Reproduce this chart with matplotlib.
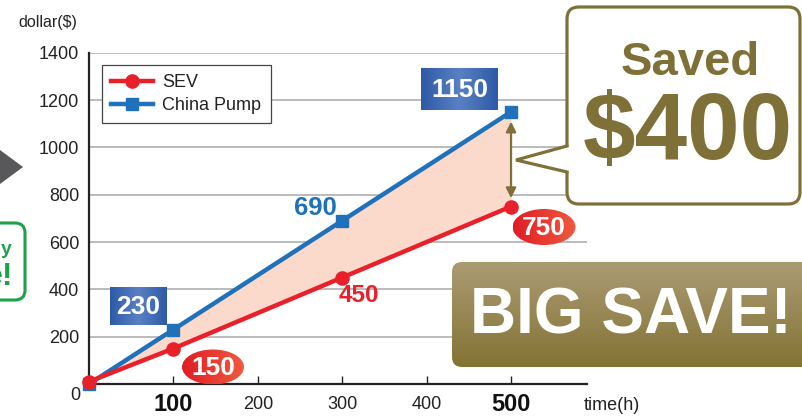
import numpy as np
import matplotlib
matplotlib.use('Agg')
import matplotlib.pyplot as plt
from matplotlib.patches import FancyBboxPatch, Ellipse, Polygon, Rectangle
from matplotlib.colors import LinearSegmentedColormap

plt.rcParams['font.family'] = ['Liberation Sans', 'DejaVu Sans']

# ---------------- data ----------------
hours = [0, 100, 300, 500]
sev_cost = [10, 150, 450, 750]
china_cost = [0, 230, 690, 1150]
series_names = ['SEV', 'China Pump']
x_ticks = [100, 200, 300, 400, 500]
x_tick_labels = ['100', '200', '300', '400', '500']
bold_x_labels = ['100', '500']
y_ticks = [0, 200, 400, 600, 800, 1000, 1200, 1400]
y_tick_labels = ['', '200', '400', '600', '800', '1000', '1200', '1400']
x_label = 'time(h)'
y_label = 'dollar($)'
saved = china_cost[-1] - sev_cost[-1]

RED = '#e8202a'
BLUE = '#1f72b9'
OLIVE = '#7f7038'
FILL = '#fcdacb'

W, H = 802, 416
fig = plt.figure(figsize=(W / 100, H / 100), dpi=100)

# main axes (pixel geometry of reference)
L, R, T, B = 89, 587, 52.7, 384
ax = fig.add_axes([L / W, 1 - B / H, (R - L) / W, (B - T) / H])
ax.set_xlim(0, 590)
ax.set_ylim(0, 1400)

for s in ['top', 'right']:
    ax.spines[s].set_visible(False)
ax.spines['left'].set_linewidth(1.6)
ax.spines['bottom'].set_linewidth(1.6)
ax.spines['left'].set_color('#222222')
ax.spines['bottom'].set_color('#222222')

ax.set_yticks(y_ticks)
ax.set_yticklabels(y_tick_labels)
ax.set_xticks(x_ticks)
ax.set_xticklabels(x_tick_labels)
ax.yaxis.grid(True, color='#a8a8a8', lw=1.1)
ax.set_axisbelow(True)
ax.tick_params(axis='y', length=0, pad=7, labelsize=13, labelcolor='#222222')
ax.tick_params(axis='x', direction='in', length=6, width=1.0, pad=14.5,
               labelsize=13, labelcolor='#222222', color='#222222')
for lbl in ax.get_xticklabels():
    lbl.set_va('center')
    if lbl.get_text() in bold_x_labels:
        lbl.set_fontsize(17)
        lbl.set_fontweight('bold')
        lbl.set_color('#111111')

ax.fill_between(hours, sev_cost, china_cost, color=FILL, lw=0, zorder=1)
l_cn, = ax.plot(hours, china_cost, color=BLUE, lw=3.2, marker='s', ms=8,
                zorder=3, clip_on=False, label=series_names[1])
l_sev, = ax.plot(hours, sev_cost, color=RED, lw=3.2, marker='o', ms=9.5,
                 zorder=4, clip_on=False, label=series_names[0])

leg = ax.legend(handles=[l_sev, l_cn], loc='upper left',
                bbox_to_anchor=(102 / W, 1 - 65 / H), bbox_transform=fig.transFigure,
                borderaxespad=0, fancybox=False, framealpha=1, edgecolor='#444444',
                fontsize=13, handlelength=2.3, handletextpad=0.55,
                labelspacing=0.35, borderpad=0.5)
leg.get_frame().set_linewidth(0.9)
for t in leg.get_texts():
    t.set_color('#222222')

# double arrow showing the saving
ax.annotate('', xy=(hours[-1], china_cost[-1]), xytext=(hours[-1], sev_cost[-1]),
            arrowprops=dict(arrowstyle='<|-|>,head_length=0.6,head_width=0.3',
                            color=OLIVE, lw=1.6, shrinkA=6, shrinkB=7), zorder=5)

# ---------------- overlay in pixel coordinates ----------------
ov = fig.add_axes([0, 0, 1, 1], zorder=10)
ov.set_xlim(0, W)
ov.set_ylim(H, 0)
ov.set_axis_off()


def gradient_patch(patch, c1, c2, horizontal=False, mid=None):
    ov.add_patch(patch)
    ext = patch.get_extents()
    inv = ov.transData.inverted()
    (x0, y0), (x1, y1) = inv.transform([(ext.x0, ext.y0), (ext.x1, ext.y1)])
    if mid is None:
        cmap = LinearSegmentedColormap.from_list('g', [c1, c2])
    else:
        cmap = LinearSegmentedColormap.from_list('g', [c1, mid, c2])
    g = np.linspace(0, 1, 256)
    img = g[None, :] if horizontal else g[:, None]
    im = ov.imshow(img, cmap=cmap, extent=[min(x0, x1), max(x0, x1), max(y0, y1), min(y0, y1)],
                   aspect='auto', zorder=patch.get_zorder(), origin='upper')
    im.set_clip_path(patch)
    ov.set_xlim(0, W)
    ov.set_ylim(H, 0)


# blue value boxes
for (x0, y0, x1, y1), txt in [((110, 287, 167, 325), '230'), ((421, 68, 498, 110), '1150')]:
    p = Rectangle((x0, y0), x1 - x0, y1 - y0, facecolor='none', edgecolor='none', zorder=11)
    gradient_patch(p, '#2d5aa6', '#2d5aa6', horizontal=True, mid='#5a80c4')
    ov.text((x0 + x1) / 2, (y0 + y1) / 2 + 1, txt, color='white', fontsize=19,
            fontweight='bold', ha='center', va='center', zorder=12)

# red value ellipses
for (cx, cy, w, h), txt in [((213, 367, 62, 35), '150'), ((544, 227, 63, 36), '750')]:
    e = Ellipse((cx, cy), w, h, facecolor='none', edgecolor='none', zorder=11)
    gradient_patch(e, '#e01c24', '#f05a40', horizontal=True)
    ov.text(cx, cy + 1, txt, color='white', fontsize=19, fontweight='bold',
            ha='center', va='center', zorder=12)

# plain coloured value labels
ov.text(315.5, 208, '690', color=BLUE, fontsize=18.5, fontweight='bold',
        ha='center', va='center', zorder=12)
ov.text(359, 296, '450', color=RED, fontsize=17.5, fontweight='bold',
        ha='center', va='center', zorder=12)

# speech bubble "Saved $400"
bub = FancyBboxPatch((567, 7), 233, 197, boxstyle='round,pad=0,rounding_size=12',
                     facecolor='white', edgecolor=OLIVE, lw=2.3, zorder=11)
ov.add_patch(bub)
ov.add_patch(Polygon([(571, 146), (567, 146), (516, 160), (567, 172), (571, 172)],
                     closed=True, facecolor='white', edgecolor='none', zorder=11.5))
ov.plot([567, 516, 567], [146, 160, 172], color=OLIVE, lw=2.3, zorder=11.6,
        solid_joinstyle='miter')
ov.text(690, 63, 'Saved', color=OLIVE, fontsize=34, fontweight='bold',
        ha='center', va='center', zorder=12)
ov.text(688, 134, f'${saved}', color=OLIVE, fontsize=68, fontweight='bold',
        ha='center', va='center', zorder=12)

# BIG SAVE! banner
big = FancyBboxPatch((452, 262), 380, 105, boxstyle='round,pad=0,rounding_size=10',
                     facecolor='none', edgecolor='none', zorder=11)
gradient_patch(big, '#ab9b73', '#837333')
ov.text(631, 316, 'BIG SAVE!', color='white', fontsize=46, fontweight='bold',
        ha='center', va='center', zorder=12)

# left side decorations (cut-off graphics)
ov.add_patch(Polygon([(-2, 148.5), (23, 167), (-2, 185.5)], closed=True,
                     facecolor='#58585a', edgecolor='none', zorder=11))
ov.add_patch(FancyBboxPatch((-40, 223), 65, 77, boxstyle='round,pad=0,rounding_size=10',
                            facecolor='white', edgecolor='#1da24a', lw=2.2, zorder=11))
ov.text(6, 250, 'y', color='#1da24a', fontsize=14, fontweight='bold',
        ha='center', va='center', zorder=12)
ov.text(13, 277, 'e!', color='#1da24a', fontsize=23, fontweight='bold',
        ha='right', va='center', zorder=12)

# axis titles and the zero label
ov.text(18, 22, y_label, color='#222222', fontsize=11.5, ha='left', va='center', zorder=12)
ov.text(584, 405, x_label, color='#222222', fontsize=13, ha='left', va='center', zorder=12)
ov.text(80, 396, '0', color='#222222', fontsize=13, ha='right', va='center', zorder=12)

fig.savefig('out.png', dpi=100)
